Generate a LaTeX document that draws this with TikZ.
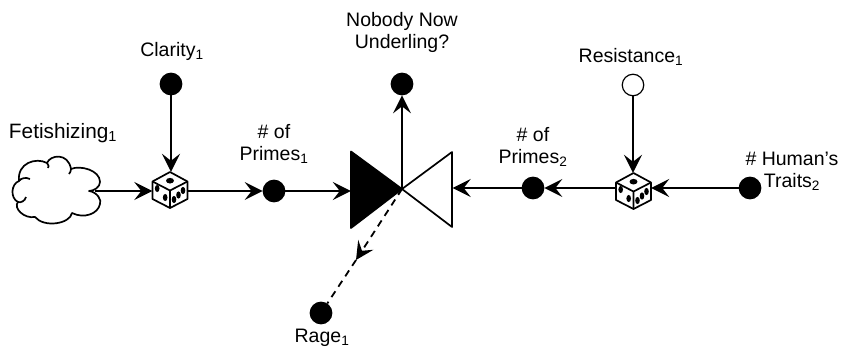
\documentclass[tikz,border=0pt]{standalone}
\usepackage{fontspec}
\setmainfont{Liberation Sans}
\usetikzlibrary{arrows.meta}
\tikzset{
  conn/.style={line width=1.8pt,-{Stealth[length=18pt,width=18pt,inset=7pt]}},
  dashline/.style={line width=1.8pt,dash pattern=on 7pt off 5.5pt},
  dot/.style={circle,draw=black,fill=black,line width=1.2pt,minimum size=21.5pt,inner sep=0pt},
  wdot/.style={dot,fill=white},
  lbl/.style={align=center,inner sep=0pt,font=\fontsize{19.5}{22}\selectfont},
  lblbig/.style={lbl,font=\fontsize{20.8}{22}\selectfont},
  dicebox/.style={minimum width=35pt,minimum height=36pt,inner sep=0pt},
  halfbow/.style={minimum width=51pt,minimum height=76pt,inner sep=0pt},
  cloudbox/.style={minimum width=87pt,minimum height=67pt,inner sep=0pt},
  outline/.style={line width=1.7pt,line join=round}
}
\newcommand{\drawdice}[1]{%
  \begin{scope}[shift={(#1)}]
    \draw[outline,fill=white] (0,-18) -- (17.5,-8.5) -- (17.5,9) -- (0,18) -- (-17.5,9) -- (-17.5,-8.5) -- cycle;
    \draw[outline] (-17.5,-8.5) -- (0,0.5) -- (17.5,-8.5) (0,0.5) -- (0,18);
    \fill (0,-9.3) ellipse (4pt and 2.8pt);
    \fill (-12.8,-1.5) ellipse (2.3pt and 3.6pt);
    \fill (-4.8,7.5) ellipse (2.3pt and 3.6pt);
    \fill (4,9.5) ellipse (2.3pt and 3.6pt);
    \fill (8.5,5) ellipse (2.3pt and 3.6pt);
    \fill (13,0.5) ellipse (2.3pt and 3.6pt);
  \end{scope}}
\begin{document}
\begin{tikzpicture}[x=1pt,y=-1pt]
\useasboundingbox (0,0) rectangle (862,353);
% cloud
\node[cloudbox] (cloudn) at (57,191) {};
\draw[outline]
  (19,181) .. controls (17,163) and (36,157) .. (47,163)
  .. controls (50,155) and (68,152) .. (71,169)
  .. controls (80,165) and (100,170) .. (100,182)
  .. controls (100,187) and (94,191) .. (89,191)
  .. controls (97,192) and (102,200) .. (100,204)
  .. controls (98,214) and (84,219) .. (72,213)
  .. controls (70,224) and (44,228) .. (35,217)
  .. controls (24,219) and (13,208) .. (18,202)
  .. controls (10,198) and (11,184) .. (19,181) -- cycle;
\draw[outline] (19,181) .. controls (21,178) and (26,177) .. (30,179)
  (47,163) .. controls (49,165) and (49,167) .. (48,168)
  (71,169) .. controls (71,171) and (70,173) .. (69,174)
  (18,202) .. controls (21,203) and (25,201) .. (26,197);
% dice
\node[dicebox] (d1) at (170,190) {};
\node[dicebox] (d2) at (633.5,191) {};
\drawdice{170,190}
\drawdice{633.5,191}
% bow tie
\coordinate (bc) at (402,189);
\node[halfbow] (bl) at (376.5,189.5) {};
\node[halfbow] (br) at (427,189.5) {};
\fill[outline,draw=black] (351,151.5) -- (351,228) -- (bc) -- cycle;
\draw[outline] (452,152) -- (452,227) -- (bc) -- cycle;
% dots
\node[dot] (clarity) at (171,84) {};
\node[dot] (nobody) at (402,84) {};
\node[wdot] (resist) at (633,85) {};
\node[dot] (p1) at (274,191) {};
\node[dot] (p2) at (533,188) {};
\node[dot] (human) at (750,188) {};
\node[dot] (rage) at (321,313) {};
\coordinate (rmid) at (356,260);
\coordinate (cloudout) at (95,191);
% connectors
\draw[conn] (clarity) -- (clarity |- d1.north);
\draw[conn] (cloudout) -- (d1.west |- cloudout);
\draw[conn] (d1.east |- p1) -- (p1);
\draw[conn] (p1) -- (bl.west |- p1);
\draw[conn] (bc) -- (nobody);
\draw[conn] (p2) -- (br.east |- p2);
\draw[conn] (d2.west |- p2) -- (p2);
\draw[conn] (human) -- (d2.east |- human);
\draw[conn] (resist) -- (resist |- d2.north);
\draw[conn,dashline] (bc) -- (rmid);
\draw[dashline] (rmid) -- (rage);
% labels
\node[lblbig] (tfet) at (63,133) {Fetishizing\textsubscript{1}};
\node[lbl] (tcla) at (172,51) {Clarity\textsubscript{1}};
\node[lbl] (tpr1) at (274,144) {\# of\\Primes\textsubscript{1}};
\node[lbl] (tnob) at (402,32) {Nobody Now\\Underling?};
\node[lbl] (tres) at (631,57) {Resistance\textsubscript{1}};
\node[lbl] (tpr2) at (533,147) {\# of\\Primes\textsubscript{2}};
\node[lbl] (thum) at (792,171) {\# Human's\\Traits\textsubscript{2}};
\node[lbl] (trag) at (322,338) {Rage\textsubscript{1}};
\end{tikzpicture}
\end{document}
